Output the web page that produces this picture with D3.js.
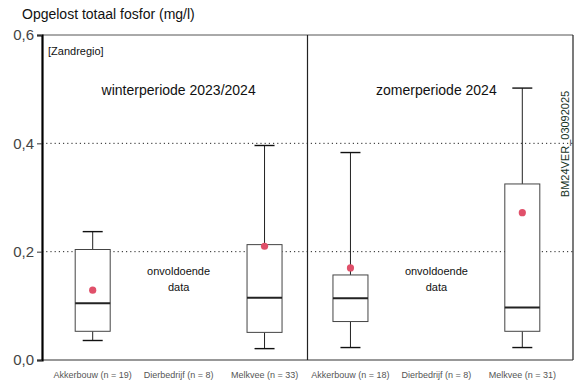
<!DOCTYPE html>
<html>
<head>
<meta charset="utf-8">
<script src="https://cdn.jsdelivr.net/npm/d3@7"></script>
<style>
  body { margin: 0; background: #fff; }
  text { font-family: "Liberation Sans", Arial, sans-serif; }
</style>
</head>
<body>
<svg width="584" height="389"></svg>
<script>
// categorieen (6 posities: winter x3, zomer x3)
var categories = ["w_akker", "w_dier", "w_melk", "z_akker", "z_dier", "z_melk"];
var catLabels = ["Akkerbouw (n = 19)", "Dierbedrijf (n = 8)", "Melkvee (n = 33)",
                 "Akkerbouw (n = 18)", "Dierbedrijf (n = 8)", "Melkvee (n = 31)"];
// boxplot waarden, null = onvoldoende data
var whiskerLow  = [0.036, null, 0.021, 0.023, null, 0.023];
var q1          = [0.053, null, 0.051, 0.071, null, 0.053];
var median      = [0.105, null, 0.115, 0.114, null, 0.097];
var q3          = [0.204, null, 0.213, 0.157, null, 0.325];
var whiskerHigh = [0.237, null, 0.396, 0.383, null, 0.502];
var mean        = [0.129, null, 0.210, 0.170, null, 0.272];
var yTicks = [0, 0.2, 0.4, 0.6];
var periods = ["winterperiode 2023/2024", "zomerperiode 2024"];

var svg = d3.select("svg");
var pLeft = 42, pRight = 573, pTop = 35, pBottom = 360;

var x = d3.scalePoint().domain(categories).range([pLeft, pRight]).padding(0.59);
var y = d3.scaleLinear().domain([0, 0.6]).range([pBottom, pTop]);
var fmt = function(d) { return d3.format(".1f")(d).replace(".", ","); };

// gridlines
svg.selectAll("line.grid")
  .data([0.2, 0.4])
  .enter().append("line")
  .attr("x1", pLeft).attr("x2", pRight)
  .attr("y1", function(d) { return y(d); }).attr("y2", function(d) { return y(d); })
  .attr("stroke", "#222").attr("stroke-width", 1).attr("stroke-dasharray", "1.2,3");

// kader
svg.append("line").attr("x1", pLeft).attr("x2", pRight).attr("y1", pTop).attr("y2", pTop)
  .attr("stroke", "#555").attr("stroke-width", 1);
svg.append("line").attr("x1", pRight).attr("x2", pRight).attr("y1", pTop).attr("y2", pBottom)
  .attr("stroke", "#222").attr("stroke-width", 1.2);
svg.append("line").attr("x1", pLeft).attr("x2", pRight).attr("y1", pBottom).attr("y2", pBottom)
  .attr("stroke", "#333").attr("stroke-width", 1.2);
var mid = (x("w_melk") + x("z_akker")) / 2;
svg.append("line").attr("x1", mid).attr("x2", mid).attr("y1", pTop).attr("y2", pBottom)
  .attr("stroke", "#222").attr("stroke-width", 1.2);

// y-as
var yAxis = svg.append("g")
  .attr("transform", "translate(" + pLeft + ",0)")
  .call(d3.axisLeft(y).tickValues(yTicks).tickFormat(fmt).tickSize(5).tickPadding(3));
yAxis.select(".domain").attr("stroke", "#000").attr("stroke-width", 2.2);
yAxis.selectAll(".tick line").attr("stroke", "#333");
yAxis.selectAll(".tick text").attr("font-size", 15).attr("fill", "#444")
  .attr("font-family", "Liberation Sans, Arial, sans-serif");

// categorie labels
svg.selectAll("text.cat")
  .data(categories)
  .enter().append("text")
  .attr("x", function(d) { return x(d); })
  .attr("y", 378)
  .attr("text-anchor", "middle")
  .attr("font-size", 9)
  .attr("fill", "#555")
  .text(function(d, i) { return catLabels[i]; });

// boxplots
var boxW = 35, capW = 20;
var idx = d3.range(categories.length).filter(function(i) { return median[i] != null; });
var g = svg.selectAll("g.box").data(idx).enter().append("g")
  .attr("transform", function(i) { return "translate(" + x(categories[i]) + ",0)"; });

g.append("line").attr("x1", 0).attr("x2", 0)
  .attr("y1", function(i) { return y(q3[i]); }).attr("y2", function(i) { return y(whiskerHigh[i]); })
  .attr("stroke", "#222");
g.append("line").attr("x1", 0).attr("x2", 0)
  .attr("y1", function(i) { return y(q1[i]); }).attr("y2", function(i) { return y(whiskerLow[i]); })
  .attr("stroke", "#222");
g.append("line").attr("x1", -capW / 2).attr("x2", capW / 2)
  .attr("y1", function(i) { return y(whiskerHigh[i]); }).attr("y2", function(i) { return y(whiskerHigh[i]); })
  .attr("stroke", "#111").attr("stroke-width", 1.4);
g.append("line").attr("x1", -capW / 2).attr("x2", capW / 2)
  .attr("y1", function(i) { return y(whiskerLow[i]); }).attr("y2", function(i) { return y(whiskerLow[i]); })
  .attr("stroke", "#111").attr("stroke-width", 1.4);
g.append("rect").attr("x", -boxW / 2).attr("width", boxW)
  .attr("y", function(i) { return y(q3[i]); })
  .attr("height", function(i) { return y(q1[i]) - y(q3[i]); })
  .attr("fill", "#fff").attr("stroke", "#444").attr("stroke-width", 1);
g.append("line").attr("x1", -boxW / 2).attr("x2", boxW / 2)
  .attr("y1", function(i) { return y(median[i]); }).attr("y2", function(i) { return y(median[i]); })
  .attr("stroke", "#222").attr("stroke-width", 2);
g.append("circle").attr("cx", 0)
  .attr("cy", function(i) { return y(mean[i]); })
  .attr("r", 3.6).attr("fill", "#e0506a");

// onvoldoende data
["w_dier", "z_dier"].forEach(function(c) {
  var t = svg.append("text").attr("x", x(c)).attr("y", 275)
    .attr("text-anchor", "middle").attr("font-size", 11).attr("fill", "#111");
  t.append("tspan").attr("x", x(c)).attr("dy", 0).text("onvoldoende");
  t.append("tspan").attr("x", x(c)).attr("dy", 16).text("data");
});

// periode titels
svg.selectAll("text.period").data(periods).enter().append("text")
  .attr("x", function(d, i) { return x(i == 0 ? "w_dier" : "z_dier"); })
  .attr("y", 95).attr("text-anchor", "middle").attr("font-size", 14).attr("fill", "#111")
  .text(function(d) { return d; });

svg.append("text").attr("x", 48).attr("y", 55).attr("font-size", 11).attr("fill", "#111")
  .text("[Zandregio]");

svg.append("text").attr("x", 22).attr("y", 19).attr("font-size", 14).attr("fill", "#111")
  .text("Opgelost totaal fosfor (mg/l)");

svg.append("text")
  .attr("transform", "translate(569,144) rotate(-90)")
  .attr("text-anchor", "middle").attr("font-size", 11).attr("fill", "#17331f")
  .text("BM24VER_03092025");
</script>
</body>
</html>
